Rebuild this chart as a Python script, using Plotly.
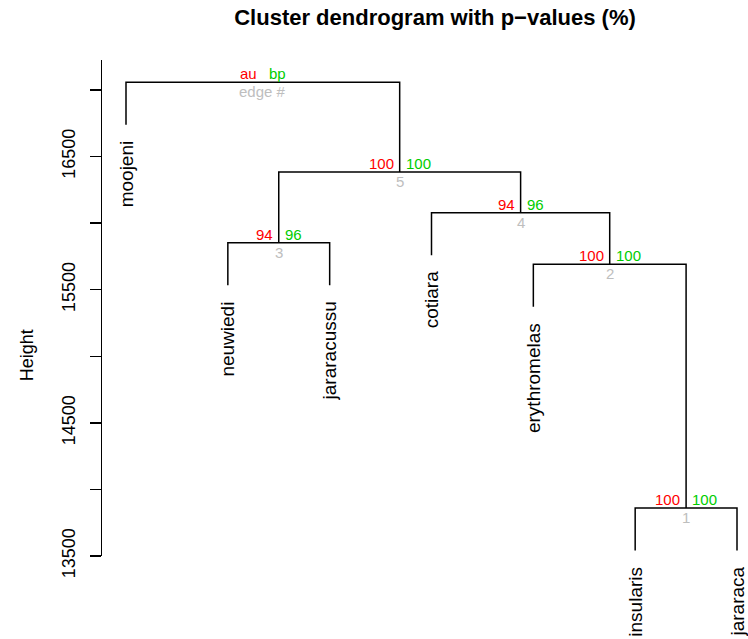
import plotly.graph_objects as go

# ---- data ----
leaf_labels = ["moojeni", "neuwiedi", "jararacussu", "cotiara",
               "erythromelas", "insularis", "jararaca"]
# hclust-style merge matrix: negative = leaf index (1-based), positive = earlier merge
merge_left = [-6, -5, -2, -4, 3, -1]
merge_right = [-7, 1, -3, 2, 4, 5]
merge_height = [13861, 15692, 15853, 16078, 16384, 17058]
au_values = [100, 100, 94, 94, 100]
bp_values = [100, 100, 96, 96, 100]
edge_numbers = [1, 2, 3, 4, 5]
ytick_vals = [13500, 14000, 14500, 15000, 15500, 16000, 16500, 17000]
ytick_text = ["13500", "", "14500", "", "15500", "", "16500", ""]

FONT = "Liberation Sans, Arial, Helvetica, sans-serif"
RED = "#FF0000"
GREEN = "#00CD00"
GREY = "#BEBEBE"

hang = 0.1 * (max(merge_height) - min(merge_height))

# node x positions
node_x = []
def child_x(c):
    return float(-c) if c < 0 else node_x[c - 1]
for l, r in zip(merge_left, merge_right):
    node_x.append((child_x(l) + child_x(r)) / 2)

xs, ys = [], []
for i, (l, r) in enumerate(zip(merge_left, merge_right)):
    h = merge_height[i]
    xl, xr = child_x(l), child_x(r)
    hl = h - hang if l < 0 else merge_height[l - 1]
    hr = h - hang if r < 0 else merge_height[r - 1]
    xs += [xl, xl, xr, xr, None]
    ys += [hl, h, h, hr, None]

leaf_end = {}
for i, (l, r) in enumerate(zip(merge_left, merge_right)):
    for c in (l, r):
        if c < 0:
            leaf_end[-c] = merge_height[i] - hang

fig = go.Figure()
fig.add_trace(go.Scatter(x=xs, y=ys, mode="lines",
                         line=dict(color="black", width=1.5),
                         hoverinfo="skip", showlegend=False))

ann = []
for k, name in enumerate(leaf_labels, start=1):
    ann.append(dict(x=k, y=leaf_end[k], text=name, showarrow=False,
                    textangle=-90, xanchor="center", yanchor="top",
                    yshift=-14, font=dict(size=19, color="black", family=FONT)))

for i in range(len(au_values)):
    x, h = node_x[i], merge_height[i]
    ann.append(dict(x=x, y=h, text=str(au_values[i]), showarrow=False,
                    xanchor="right", yanchor="bottom", xshift=-4, yshift=-2,
                    font=dict(size=15, color=RED, family=FONT)))
    ann.append(dict(x=x, y=h, text=str(bp_values[i]), showarrow=False,
                    xanchor="left", yanchor="bottom", xshift=4, yshift=-2,
                    font=dict(size=15, color=GREEN, family=FONT)))
    ann.append(dict(x=x, y=h, text=str(edge_numbers[i]), showarrow=False,
                    xanchor="center", yanchor="top", yshift=1,
                    font=dict(size=15, color=GREY, family=FONT)))

# legend at root
rx, rh = node_x[-1], merge_height[-1]
ann.append(dict(x=rx, y=rh, text="au", showarrow=False, xanchor="right",
                yanchor="bottom", xshift=-4, yshift=-2,
                font=dict(size=15, color=RED, family=FONT)))
ann.append(dict(x=rx, y=rh, text="bp", showarrow=False, xanchor="left",
                yanchor="bottom", xshift=4, yshift=-2,
                font=dict(size=15, color=GREEN, family=FONT)))
ann.append(dict(x=rx, y=rh, text="edge #", showarrow=False, xanchor="center",
                yanchor="top", yshift=1,
                font=dict(size=15, color=GREY, family=FONT)))

# y axis title
ann.append(dict(xref="paper", yref="paper", x=-0.116, y=0.405, text="Height",
                showarrow=False, textangle=-90, xanchor="center", yanchor="middle",
                font=dict(size=18, color="black", family=FONT)))

fig.update_layout(
    width=748, height=639,
    margin=dict(l=102, r=0, t=60, b=83),
    paper_bgcolor="white", plot_bgcolor="white",
    title=dict(text="<b>Cluster dendrogram with p\u2212values (%)</b>",
               xref="container", yref="container",
               x=435 / 748, y=1 - 17 / 639, xanchor="center", yanchor="middle",
               font=dict(size=22, color="black", family=FONT)),
    xaxis=dict(range=[0.7643, 7.108], visible=False, fixedrange=True),
    yaxis=dict(range=[13500, 17225], tickmode="array", tickvals=ytick_vals,
               ticktext=ytick_text, ticks="outside", ticklen=11, tickwidth=1.5,
               tickcolor="black", showline=True, linecolor="black", linewidth=1.5,
               showgrid=False, zeroline=False, tickangle=-90, ticklabelstandoff=7,
               tickfont=dict(size=18, color="black", family=FONT),
               fixedrange=True),
    annotations=ann,
    showlegend=False,
)

fig.write_html("out.html", config={"displayModeBar": False, "staticPlot": True},
               post_script="document.body.style.margin='0';document.body.style.overflow='hidden';")
